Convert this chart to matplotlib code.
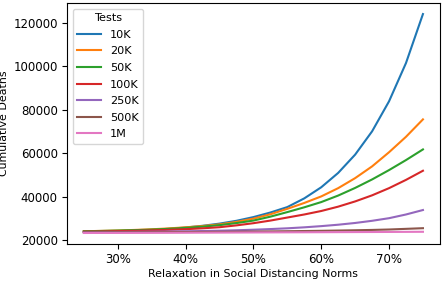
import numpy as np
import matplotlib
matplotlib.use("Agg")
import matplotlib.pyplot as plt
from matplotlib.ticker import PercentFormatter

# relaxation levels (fraction)
relax = [0.25, 0.275, 0.30, 0.325, 0.35, 0.375, 0.40, 0.425, 0.45, 0.475, 0.50,
         0.525, 0.55, 0.575, 0.60, 0.625, 0.65, 0.675, 0.70, 0.725, 0.75]

labels = ["10K", "20K", "50K", "100K", "250K", "500K", "1M"]

deaths_10k = [24000, 24100, 24250, 24500, 24850, 25300, 25900, 26700, 27700, 29000, 30700,
              32800, 35300, 39300, 44400, 51000, 59400, 70100, 83900, 101500, 124000]
deaths_20k = [24200, 24350, 24550, 24800, 25100, 25500, 26000, 26600, 27350, 28500, 30000,
              32000, 34500, 37200, 40200, 44000, 48600, 54000, 60500, 67600, 75600]
deaths_50k = [24200, 24330, 24500, 24700, 24950, 25300, 25750, 26300, 27000, 27950, 29100,
              30900, 33000, 35200, 37600, 40600, 44100, 48000, 52300, 56900, 61800]
deaths_100k = [24000, 24100, 24250, 24400, 24600, 24850, 25150, 25550, 26050, 26900, 27900,
               29100, 30500, 31900, 33500, 35500, 37900, 40700, 44000, 47800, 52000]
deaths_250k = [23800, 23830, 23870, 23920, 24000, 24080, 24180, 24300, 24450, 24650, 24900,
               25200, 25550, 26000, 26550, 27200, 28000, 29000, 30200, 31900, 33950]
deaths_500k = [23700, 23710, 23730, 23750, 23780, 23810, 23850, 23890, 23940, 24000, 24060,
               24130, 24210, 24300, 24400, 24520, 24650, 24800, 25000, 25300, 25600]
deaths_1m = [23400, 23420, 23440, 23460, 23480, 23500, 23520, 23550, 23580, 23610, 23640,
             23670, 23700, 23730, 23760, 23790, 23820, 23850, 23880, 23915, 23950]

series = [deaths_10k, deaths_20k, deaths_50k, deaths_100k, deaths_250k, deaths_500k, deaths_1m]

fig = plt.figure(figsize=(4.43, 2.82), dpi=100)
ax = fig.add_axes([0.151, 0.135, 0.842, 0.854])

for lab, ys in zip(labels, series):
    ax.plot(relax, ys, label=lab, linewidth=1.5)

ax.xaxis.set_major_formatter(PercentFormatter(1.0, decimals=0))
ax.set_xticks([0.3, 0.4, 0.5, 0.6, 0.7])
ax.set_yticks([20000, 40000, 60000, 80000, 100000, 120000])
ax.tick_params(labelsize=8.5, pad=3)
ax.set_xlabel("Relaxation in Social Distancing Norms", fontsize=7.9, labelpad=2)
ax.set_ylabel("Cumulative Deaths", fontsize=7.9, labelpad=3)
ax.legend(title="Tests", loc="upper left", fontsize=8.15, title_fontsize=8.15,
          labelspacing=0.58, handlelength=2.1)

fig.savefig("out.png", dpi=100)
